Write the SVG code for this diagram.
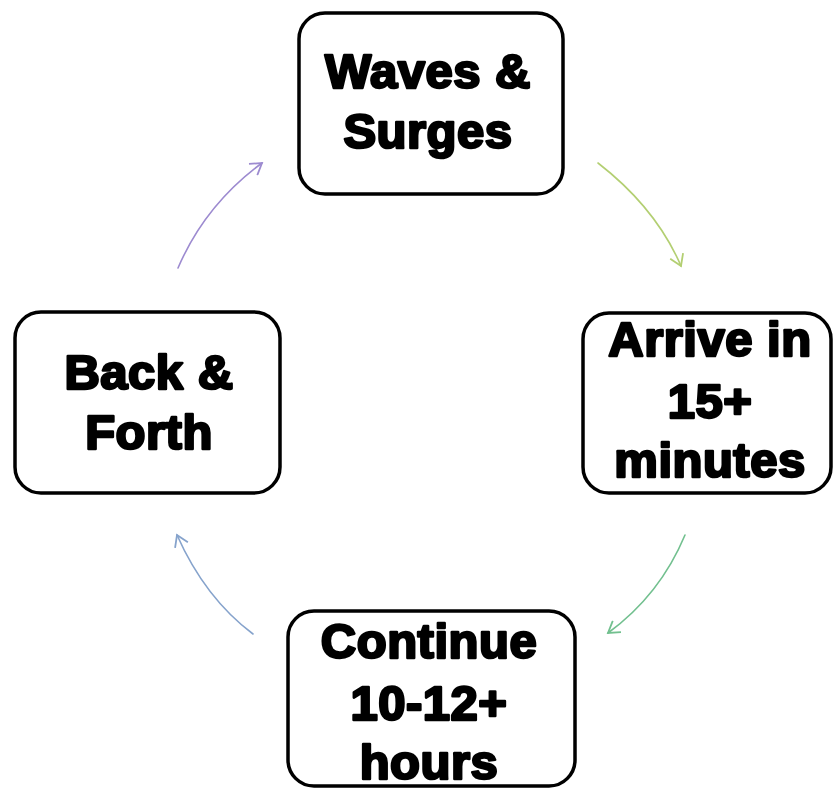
<svg xmlns="http://www.w3.org/2000/svg" width="833" height="788" viewBox="0 0 833 788">
<style>
.box{fill:#fff;stroke:#000;stroke-width:3.5}
.t{font-family:"Liberation Sans",Arial,sans-serif;font-weight:bold;font-size:49px;fill:#000;stroke:#000;stroke-width:2.6;stroke-linejoin:round;text-anchor:middle;letter-spacing:0.5px}
.c{fill:none;stroke-width:1.6;stroke-linecap:round}
</style>
<defs>
<marker id="m1" viewBox="-12 -8 14 16" markerWidth="14" markerHeight="16" refX="0" refY="0" orient="auto" markerUnits="userSpaceOnUse"><path d="M-11,-7 L0,0 L-11,7" fill="none" stroke="#b3cf72" stroke-width="1.8"/></marker>
<marker id="m2" viewBox="-12 -8 14 16" markerWidth="14" markerHeight="16" refX="0" refY="0" orient="auto" markerUnits="userSpaceOnUse"><path d="M-11,-7 L0,0 L-11,7" fill="none" stroke="#72c08f" stroke-width="1.8"/></marker>
<marker id="m3" viewBox="-12 -8 14 16" markerWidth="14" markerHeight="16" refX="0" refY="0" orient="auto" markerUnits="userSpaceOnUse"><path d="M-11,-7 L0,0 L-11,7" fill="none" stroke="#86a3cc" stroke-width="1.8"/></marker>
<marker id="m4" viewBox="-12 -8 14 16" markerWidth="14" markerHeight="16" refX="0" refY="0" orient="auto" markerUnits="userSpaceOnUse"><path d="M-11,-7 L0,0 L-11,7" fill="none" stroke="#9d8bd0" stroke-width="1.8"/></marker>
</defs>
<rect width="833" height="788" fill="#fff"/>
<g id="connectors">
<path class="c" d="M598,163 Q656,208 681,266" stroke="#b3cf72" marker-end="url(#m1)"/>
<path class="c" d="M685,535 Q660,595 608,633" stroke="#72c08f" marker-end="url(#m2)"/>
<path class="c" d="M253,634 Q205,598 177,535" stroke="#86a3cc" marker-end="url(#m3)"/>
<path class="c" d="M178,268 Q205,205 262,163" stroke="#9d8bd0" marker-end="url(#m4)"/>
</g>
<g id="waves">
<rect class="box" x="299" y="13" width="264" height="181" rx="26"/>
<text class="t" x="428" y="88">Waves &amp;</text>
<text class="t" x="428" y="148">Surges</text>
</g>
<g id="arrive">
<rect class="box" x="583" y="313" width="248" height="180" rx="26"/>
<text class="t" x="710" y="356">Arrive in</text>
<text class="t" x="710" y="418">15+</text>
<text class="t" x="710" y="477">minutes</text>
</g>
<g id="continue">
<rect class="box" x="288" y="611" width="287" height="175" rx="26"/>
<text class="t" x="429" y="658">Continue</text>
<text class="t" x="429" y="720">10-12+</text>
<text class="t" x="429" y="779">hours</text>
</g>
<g id="back">
<rect class="box" x="15" y="312" width="265" height="181" rx="26"/>
<text class="t" x="149" y="389">Back &amp;</text>
<text class="t" x="149" y="449">Forth</text>
</g>
</svg>
